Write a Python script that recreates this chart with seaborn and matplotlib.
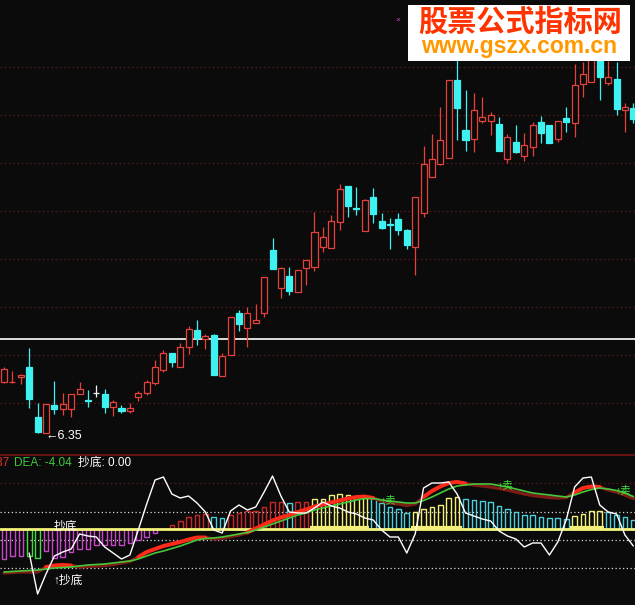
import numpy as np
import matplotlib
matplotlib.use("Agg")
import matplotlib.pyplot as plt
from matplotlib.patches import Rectangle
import seaborn as sns

BG = "#0b0b0b"
UP = "#e8413c"
DOWN = "#3ff2f2"
FLAT = "#f0f0f0"

# daily candles (price)
opens = [7.37, 7.37, 7.47, 7.67, 6.67, 6.35, 6.91, 6.83, 6.83, 7.13,
         7.01, 7.15, 7.13, 6.87, 6.85, 6.79, 7.07, 7.15, 7.35, 7.61,
         7.95, 7.67, 8.07, 8.41, 8.23, 8.31, 7.49, 7.91, 8.75, 8.45,
         8.55, 8.75, 10.01, 9.25, 9.49, 9.17, 9.65, 9.67, 10.07, 10.05,
         10.57, 11.29, 10.85, 10.39, 11.07, 10.59, 10.53, 10.63, 10.41, 10.07,
         10.75, 11.47, 11.73, 11.85, 13.41, 12.41, 12.23, 12.59, 12.59, 12.53,
         11.83, 12.17, 11.89, 12.07, 12.57, 12.51, 12.23, 12.65, 12.55, 13.33,
         13.37, 13.85, 13.35, 13.43, 12.81, 12.85]
highs = [7.67, 7.59, 7.53, 8.05, 6.95, 6.93, 7.39, 7.15, 7.13, 7.37,
         7.21, 7.31, 7.23, 7.01, 6.91, 6.95, 7.19, 7.41, 7.81, 8.01,
         7.95, 8.15, 8.49, 8.61, 8.33, 8.33, 7.95, 8.67, 8.81, 8.87,
         8.93, 9.47, 10.25, 9.67, 9.67, 9.61, 9.81, 10.77, 10.47, 10.71,
         11.33, 11.29, 11.27, 11.03, 11.25, 10.75, 10.65, 10.75, 10.43, 11.07,
         12.09, 12.33, 12.87, 13.41, 13.91, 13.21, 13.15, 13.07, 12.77, 12.67,
         12.33, 12.51, 12.35, 12.57, 12.69, 12.51, 12.59, 12.87, 13.73, 13.77,
         14.01, 14.01, 13.79, 13.77, 12.95, 12.95]
lows = [7.35, 7.35, 7.33, 6.85, 6.36, 6.35, 6.73, 6.71, 6.67, 7.13,
        6.87, 7.07, 6.75, 6.69, 6.75, 6.75, 6.99, 7.11, 7.31, 7.57,
        7.67, 7.67, 7.93, 8.11, 8.03, 7.51, 7.49, 7.91, 8.39, 8.07,
        8.55, 8.67, 9.63, 9.05, 9.11, 9.17, 9.31, 9.59, 9.97, 10.05,
        10.41, 10.67, 10.71, 10.39, 10.55, 10.43, 10.03, 10.31, 10.03, 9.51,
        10.67, 11.47, 11.71, 11.85, 12.21, 11.99, 11.97, 12.55, 12.31, 11.99,
        11.75, 11.95, 11.79, 11.89, 12.15, 12.15, 12.17, 12.37, 12.27, 13.07,
        13.37, 13.01, 13.31, 12.71, 12.37, 12.55]
closes = [7.63, 7.38, 7.51, 7.03, 6.37, 6.93, 6.83, 6.93, 7.13, 7.23,
          6.99, 7.15, 6.87, 6.97, 6.79, 6.85, 7.15, 7.37, 7.67, 7.95,
          7.77, 8.07, 8.43, 8.25, 8.29, 7.51, 7.89, 8.67, 8.53, 8.75,
          8.61, 9.47, 9.63, 9.65, 9.19, 9.61, 9.81, 10.37, 10.27, 10.59,
          11.23, 10.89, 10.84, 11.01, 10.73, 10.45, 10.52, 10.41, 10.11, 11.07,
          11.73, 11.83, 12.21, 13.41, 12.85, 12.21, 12.81, 12.67, 12.71, 11.99,
          12.27, 11.97, 12.11, 12.51, 12.35, 12.15, 12.59, 12.57, 13.31, 13.53,
          13.85, 13.47, 13.47, 12.83, 12.87, 12.63]
ref_price = 8.23
grid_prices = [6.95, 7.91, 8.87, 9.83, 10.79, 11.75, 12.71, 13.67]

# indicator panel
hist = [-3.0, -2.7, -2.7, -2.7, -2.9, -2.2, -2.9, -2.8, -2.3, -2.0,
        -2.0, -1.6, -1.6, -1.6, -1.6, -1.4, -1.1, -0.8, -0.4, 0.0,
        0.4, 0.8, 1.2, 1.4, 1.5, 1.2, 1.1, 1.4, 1.6, 1.8,
        1.8, 2.2, 2.7, 2.7, 2.6, 2.7, 2.7, 3.0, 3.0, 3.4,
        3.5, 3.4, 3.2, 3.1, 3.1, 2.6, 2.2, 2.0, 1.6, 1.7,
        2.0, 2.2, 2.4, 3.1, 3.2, 3.0, 2.9, 2.8, 2.7, 2.3,
        2.0, 1.7, 1.4, 1.4, 1.2, 1.1, 1.1, 1.0, 1.3, 1.5,
        1.8, 1.8, 1.7, 1.4, 1.2, 0.9]
hist_kind = ("MMM" + "GG" + "M" * 14 + "R" * 6 + "CC" + "R" * 7 + "C" + "RR"
             + "Y" * 7 + "C" * 5 + "Y" * 6 + "C" * 13 + "Y" * 4 + "C" * 4)
dif = [-4.4, -4.35, -4.3, -4.3, -4.3, -3.8, -3.65, -3.6, -3.65, -3.8,
       -3.75, -3.7, -3.65, -3.55, -3.4, -3.25, -2.8, -2.3, -2.0, -1.7,
       -1.5, -1.3, -1.05, -0.85, -0.85, -1.0, -0.95, -0.75, -0.6, -0.35,
       0.05, 0.45, 0.85, 1.15, 1.4, 1.7, 1.95, 2.25, 2.45, 2.65,
       2.85, 3.05, 3.2, 3.25, 3.1, 2.8, 2.6, 2.5, 2.35, 2.5,
       3.2, 3.8, 4.25, 4.6, 4.7, 4.55, 4.4, 4.3, 4.2, 4.05,
       3.9, 3.7, 3.5, 3.35, 3.25, 3.15, 3.1, 3.15, 3.65, 4.1,
       4.25, 4.2, 3.9, 3.7, 3.4, 3.05]
dea = [-4.3, -4.25, -4.2, -4.15, -4.1, -4.0, -3.9, -3.85, -3.8, -3.7,
       -3.6, -3.55, -3.5, -3.4, -3.3, -3.2, -3.0, -2.7, -2.4, -2.2,
       -1.95, -1.7, -1.4, -1.1, -0.95, -0.9, -0.8, -0.65, -0.5, -0.35,
       -0.1, 0.2, 0.5, 0.8, 1.1, 1.4, 1.6, 1.9, 2.1, 2.3,
       2.5, 2.7, 2.9, 3.05, 3.05, 2.9, 2.8, 2.7, 2.6, 2.6,
       2.85, 3.2, 3.6, 4.0, 4.3, 4.4, 4.5, 4.5, 4.5, 4.35,
       4.2, 4.0, 3.8, 3.6, 3.5, 3.4, 3.3, 3.2, 3.4, 3.7,
       3.95, 4.1, 4.0, 3.85, 3.6, 3.25]
white_start = 3
white = [-2.4, -6.5, -4.5, -2.7, -2.3, -2.0, -0.5, -0.7, -0.8, -1.8,
         -2.4, -3.0, -2.6, -0.1, 2.5, 4.9, 5.2, 3.5, 3.1, 3.3,
         2.6, 1.7, -0.1, -0.4, 1.8, 2.4, 1.9, 2.2, 3.7, 5.3,
         3.3, 1.7, 1.6, 1.6, 2.1, 2.7, 2.3, 2.1, 1.7, 1.5,
         1.1, 0.9, -0.1, -0.8, -0.8, -2.4, -0.5, 4.1, 4.6, 4.6,
         4.7, 3.5, 1.6, 1.3, 1.0, 0.8, -0.2, -0.7, -1.0, -1.8,
         -1.4, -1.4, -2.6, -1.3, 0.9, 4.2, 5.1, 5.2, 2.4, 1.7,
         1.5, -0.6, -1.7]
white_levels = [1.7, -1.1, -3.9]
red_levels = [4.6]
buy_idx = [6]
sell_idx = [45, 59, 73]

kind_colors = {"M": "#c847c8", "G": "#44d844", "R": "#c82828",
               "C": "#4ccfdc", "Y": "#f2f078"}

sns.set_theme(style="dark", rc={"axes.facecolor": BG, "figure.facecolor": BG,
                                "savefig.facecolor": BG})
plt.rcParams["font.family"] = ["Liberation Sans", "Noto Sans CJK SC", "DejaVu Sans"]

fig = plt.figure(figsize=(6.35, 6.05), dpi=100)
split = 150 / 605
ax = fig.add_axes([0, split, 1, 1 - split])
ax2 = fig.add_axes([0, 0, 1, split])

for a in (ax, ax2):
    a.set_facecolor(BG)
    a.set_xticks([])
    a.set_yticks([])
    a.grid(False)
    for s in a.spines.values():
        s.set_visible(False)
    a.set_xlim(-0.48, 75.2)

idx = np.arange(len(opens))
o, h, l, c = map(np.array, (opens, highs, lows, closes))

# price panel
for g in grid_prices:
    ax.axhline(g, color="#5e1818", lw=0.9, ls=(0, (1.2, 2.2)), zorder=0)
ax.axhline(ref_price, color="white", lw=1.2, zorder=1)

edge = np.where(c > o, UP, np.where(c < o, DOWN, FLAT))
face = np.where(c > o, BG, edge)
ax.vlines(idx, l, h, colors=edge, lw=0.9, zorder=2)
ax.bar(idx, np.maximum(np.abs(c - o), 0.004), bottom=np.minimum(o, c), width=0.72,
       color=face, edgecolor=edge, linewidth=0.9, zorder=3)
ax.set_ylim(5.91, 15.01)

low_i = int(np.argmin(l))
ax.text(low_i, l[low_i] - 0.06, f"←{l[low_i]:.2f}", color="white", fontsize=9,
        ha="left", va="center", family=["Liberation Sans", "DejaVu Sans"])

# small marker left of the watermark
fig.text(398 / 635, 1 - 20 / 605, "×", color="#d040d0", fontsize=6, ha="center", va="center")

# watermark box
fig.add_artist(Rectangle((408 / 635, 1 - 61 / 605), 222 / 635, 56 / 605,
                         transform=fig.transFigure, facecolor="white",
                         edgecolor="none", zorder=10))
fig.text(520 / 635, 1 - 21.5 / 605, "股票公式指标网", color="#ff3300", fontsize=21,
         fontweight="bold", family=["Noto Sans CJK SC"], ha="center", va="center", zorder=11)
fig.text(519 / 635, 1 - 46 / 605, "www.gszx.com.cn", color="#ff9900", fontsize=16.5,
         fontweight="bold", family=["Liberation Sans"], ha="center", va="center", zorder=11)

# indicator panel
ax2.set_ylim(-7.6, 7.4)
ax2.spines["top"].set_visible(True)
ax2.spines["top"].set_color("#7a1414")
ax2.spines["top"].set_linewidth(1.2)

for lv in white_levels:
    ax2.axhline(lv, color="#d8d8d8", lw=0.9, ls=(0, (1, 2)), zorder=0)
for lv in red_levels:
    ax2.axhline(lv, color="#5e1818", lw=0.9, ls=(0, (1.2, 2.2)), zorder=0)

bar_cols = [kind_colors[k] for k in hist_kind]
ax2.bar(idx, hist, width=0.55, facecolor="none", edgecolor=bar_cols, linewidth=1.0, zorder=2)
ax2.axhline(0, color="#f4f47a", lw=2.0, zorder=3)
for i, k in enumerate(hist_kind):
    if k == "Y":
        ax2.hlines(0.15, i - 0.55, i + 0.55, color=kind_colors["Y"], lw=3.0, zorder=3)

dif_a = np.array(dif)
dea_a = np.array(dea)
sns.lineplot(x=idx, y=dif_a, ax=ax2, color="#7c1c16", linewidth=2.4, zorder=4)
ax2.plot(idx, np.where(dif_a >= dea_a, dif_a, np.nan), color="#ff2a1a", lw=2.8, zorder=5,
         solid_capstyle="round")
sns.lineplot(x=idx, y=dea_a, ax=ax2, color="#46c83a", linewidth=1.2, zorder=6)
sns.lineplot(x=idx[white_start:], y=white, ax=ax2, color="white", linewidth=1.0, zorder=7)

sig_font = ["Liberation Sans", "Noto Sans CJK SC", "DejaVu Sans"]
for i in buy_idx:
    ax2.text(i - 0.1, 0.3, "抄底", color="white", fontsize=8.5, ha="left", va="center",
             family=["Noto Sans CJK SC", "DejaVu Sans"], zorder=8)
    ax2.text(i - 0.1, -5.2, "↑抄底", color="white", fontsize=8.5, ha="left", va="center",
             family=sig_font, zorder=8)
for i in sell_idx:
    ax2.text(i - 0.15, dea_a[i], "↑卖", color="#3ee03e", fontsize=7.5, ha="left", va="center",
             family=sig_font, zorder=8)

ty = 1 - 8 / 150
ax2.text(9 / 635, ty, "DIF: -3.37", transform=ax2.transAxes, ha="right", va="center",
         color="#e03030", fontsize=8.5)
ax2.text(14 / 635, ty, "DEA: -4.04", transform=ax2.transAxes, ha="left", va="center",
         color="#3ec83e", fontsize=8.5)
ax2.text(78 / 635, ty, "抄底: 0.00", transform=ax2.transAxes, ha="left", va="center",
         color="white", fontsize=8.5)

fig.savefig("out.png", dpi=100, facecolor=BG)
